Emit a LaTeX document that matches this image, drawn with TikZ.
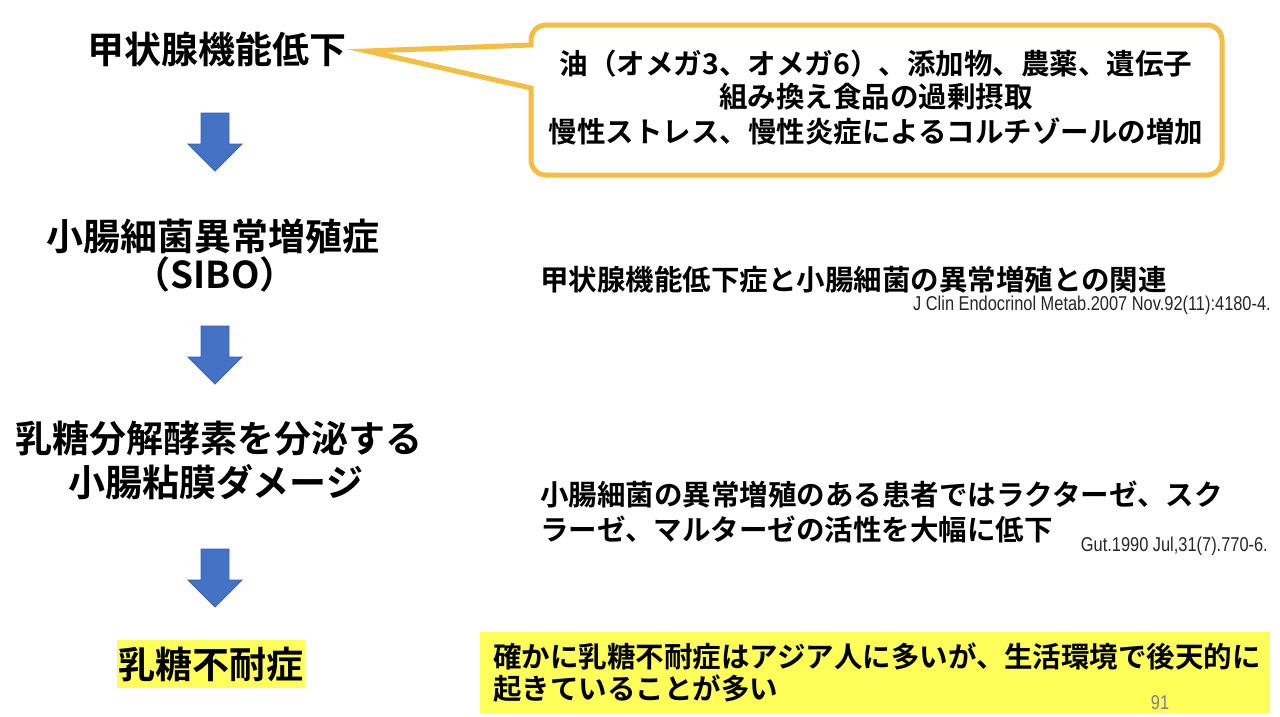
\documentclass[tikz,border=0pt]{standalone}
\usepackage{fontspec}
\setmainfont{Noto Sans CJK JP}[BoldFont={Noto Sans CJK JP Bold}]
\newfontfamily\citefont{Liberation Sans}
\definecolor{arrowblue}{HTML}{4472C4}
\definecolor{arrowedge}{HTML}{3A62AA}
\definecolor{calloutgold}{HTML}{F5BD41}
\definecolor{hiyellow}{HTML}{FFFF59}
\begin{document}
\begin{tikzpicture}[x=1pt,y=-1pt,
  bigtxt/.style={inner sep=0pt,font=\fontsize{37}{44}\selectfont\bfseries},
  midtxt/.style={inner sep=0pt,font=\fontsize{28.5}{34}\selectfont\bfseries},
  citetxt/.style={inner sep=0pt,font=\fontsize{20}{24}\selectfont\citefont,text=black!85},
  downarrow/.style={fill=arrowblue,draw=arrowedge,line width=0.8pt}]
\useasboundingbox (0,0) rectangle (1280,716);
\fill[white] (0,0) rectangle (1280,716);

% left column
\node[bigtxt] (t1) at (217,49) {甲状腺機能低下};
\node[bigtxt] (t2a) at (213,236) {小腸細菌異常増殖症};
\node[bigtxt] (t2b) at (215,274) {（SIBO）};
\node[bigtxt] (t3a) at (219,439) {乳糖分解酵素を分泌する};
\node[bigtxt] (t3b) at (216,482) {小腸粘膜ダメージ};
\node[bigtxt,fill=hiyellow,minimum width=188pt,minimum height=48pt] (t4) at (211,664) {乳糖不耐症};

% block arrows
\foreach \yt/\nm in {113/a1,326/a2,549/a3}{
  \draw[downarrow] (201,\yt) -- (229,\yt) -- (229,\yt+31) -- (242,\yt+31) -- (215,\yt+58) -- (188,\yt+31) -- (201,\yt+31) -- cycle;
}

% callout
\draw[draw=calloutgold,line width=5pt,fill=white,line join=miter]
  (367,51) -- (531,45) -- (531,40) arc (180:270:15) -- (1207,25) arc (270:360:15)
  -- (1222,160) arc (0:90:15) -- (546,175) arc (90:180:15) -- (531,88) -- cycle;
\node[midtxt,align=center] (c1) at (876,64) {油（オメガ3、オメガ6）、添加物、農薬、遺伝子};
\node[midtxt,align=center] (c2) at (876,97) {組み換え食品の過剰摂取};
\node[midtxt,align=center] (c3) at (876,131) {慢性ストレス、慢性炎症によるコルチゾールの増加};

% right column
\node[midtxt,anchor=west] (r1) at (540,280) {甲状腺機能低下症と小腸細菌の異常増殖との関連};
\node[citetxt,anchor=east] (r1c) at (1271,305) {\scalebox{0.82}[1]{J Clin Endocrinol Metab.2007 Nov.92(11):4180-4.}};
\node[midtxt,anchor=west] (r2a) at (540,495) {小腸細菌の異常増殖のある患者ではラクターゼ、スク};
\node[midtxt,anchor=west] (r2b) at (540,529) {ラーゼ、マルターゼの活性を大幅に低下};
\node[citetxt,anchor=east] (r2c) at (1268,546) {\scalebox{0.82}[1]{Gut.1990 Jul,31(7).770-6.}};

\fill[hiyellow] (480,632) rectangle (1270,713);
\node[midtxt,anchor=west] (r3a) at (493,656) {確かに乳糖不耐症はアジア人に多いが、生活環境で後天的に};
\node[midtxt,anchor=west] (r3b) at (493,689) {起きていることが多い};
\node[citetxt,text=black!50,anchor=south] (pg) at (1160,710) {\scalebox{0.82}[1]{91}};
\end{tikzpicture}
\end{document}
